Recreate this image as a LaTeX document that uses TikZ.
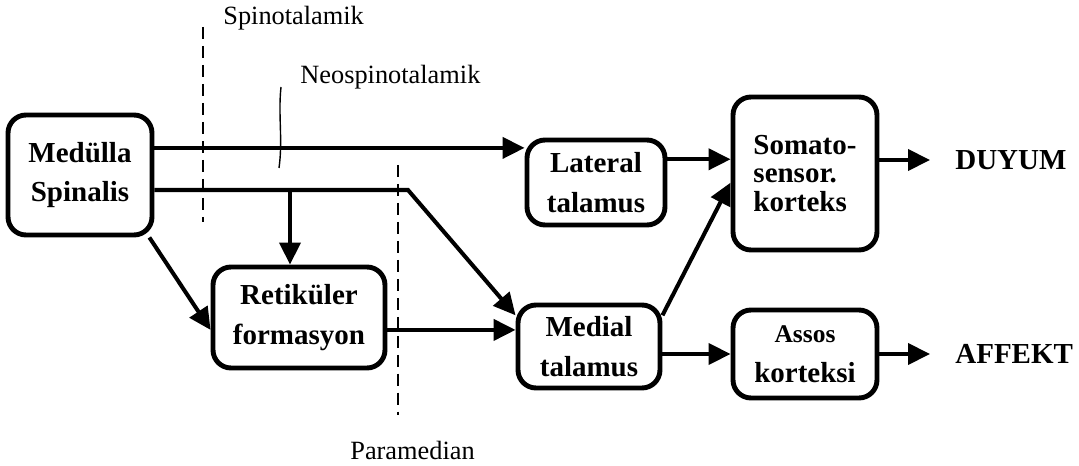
\documentclass[tikz,border=0pt]{standalone}
\usepackage{fontspec}
\setmainfont{Liberation Serif}
\usetikzlibrary{arrows.meta}
\begin{document}
\begin{tikzpicture}[x=.02cm,y=-.02cm,
  box/.style={draw=black,line width=2.8pt,rounded corners=.36cm,align=center,inner sep=0pt,
    font=\fontsize{16.5}{22.5}\selectfont\bfseries},
  flow/.style={draw=black,line width=2.3pt,-{Triangle[length=.44cm,width=.42cm]}},
  cut/.style={draw=black,line width=1.1pt,dash pattern=on 6.8pt off 4pt},
  tract/.style={font=\fontsize{15}{17}\selectfont,inner sep=0pt,anchor=west},
  outcome/.style={font=\fontsize{16.5}{19}\selectfont\bfseries,inner sep=0pt,anchor=west}]
\useasboundingbox (0,0) rectangle (1079,466);
% Boxes.
\node[box,minimum width=2.88cm,minimum height=2.4cm] (ms) at (80,175) {Medülla\\Spinalis};
\node[box,minimum width=2.76cm,minimum height=1.7cm] (lt) at (596,182.5) {Lateral\\talamus};
\node[box,minimum width=2.88cm,minimum height=3.06cm,align=left,
  font=\fontsize{16.5}{16}\selectfont\bfseries] (sk) at (805,173.5) {Somato-\\sensor.\\korteks};
\node[box,minimum width=3.44cm,minimum height=2.02cm] (rf) at (299,317.5) {Retiküler\\formasyon};
\node[box,minimum width=2.84cm,minimum height=1.66cm] (mt) at (589,346.5) {Medial\\talamus};
\node[box,minimum width=2.88cm,minimum height=1.76cm] (ak) at (805,354)
  {{\fontsize{14.5}{22.5}\selectfont Assos}\\korteksi};
\node[outcome] (duyum) at (955,160) {DUYUM};
\node[outcome] (affekt) at (955,354) {AFFEKT};

% Tract labels and cuts.
\node[tract] (spino) at (223,18) {Spinotalamik};
\node[tract] (neo) at (300,77) {Neospinotalamik};
\node[tract] (para) at (350,450) {Paramedian};
\draw[cut](203,27)--(203,222);
\draw[black,line width=.8pt](281,87) .. controls (278,115) and (283,140) .. (279,168);
\draw[cut](398,165)--(398,415);

% Pathways.
\coordinate (bend) at (408,190);
\coordinate (drop) at (290,190);
\draw[flow](ms.20)--(ms.20 -| lt.west);
\draw[flow](bend -| ms.east)--(bend)--(mt.157);
\draw[flow](drop)--(drop |- rf.north);
\draw[flow](ms.-42)--(rf.188);
\draw[flow](rf.-8)--(rf.-8 -| mt.west);
\draw[flow](lt.18)--(lt.18 -| sk.west);
\draw[flow](mt.23)--(sk.187);
\draw[flow](ak.west -| mt.east)--(ak.west);
\draw[flow](duyum.west -| sk.east)--([xshift=-.5cm]duyum.west);
\draw[flow](affekt.west -| ak.east)--([xshift=-.5cm]affekt.west);
\end{tikzpicture}
\end{document}
